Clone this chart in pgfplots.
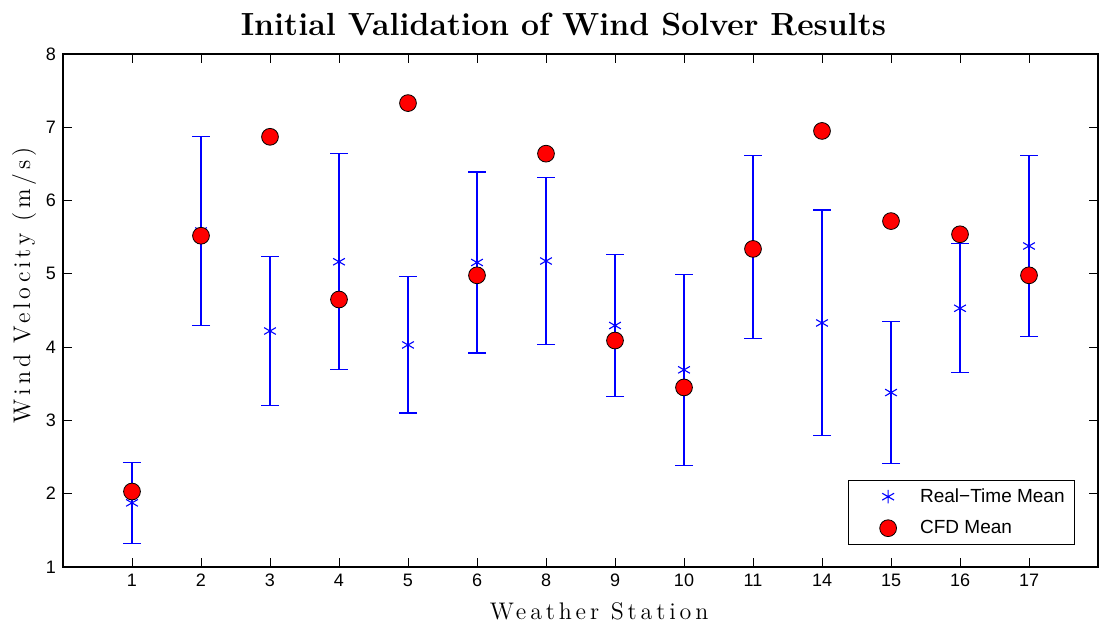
\documentclass[border=0pt]{standalone}
\usepackage{fontspec}
\usepackage{pgfplots}
\pgfplotsset{compat=1.18}
\usepackage{pgfplotstable}
\newfontfamily\hv{Liberation Sans}
\newfontfamily\spaced{lmroman12-regular}[Extension=.otf, LetterSpace=16]
\definecolor{mblue}{rgb}{0,0,1}
\pgfplotstableread{
x y err
1 1.875 0.555
2 5.585 1.285
3 4.22 1.02
4 5.165 1.475
5 4.03 0.93
6 5.155 1.235
7 5.175 1.135
8 4.295 0.965
9 3.69 1.30
10 5.37 1.25
11 4.33 1.54
12 3.38 0.97
13 4.53 0.88
14 5.38 1.24
}\rtdata
\pgfplotstableread{
x y
1 2.03
2 5.52
3 6.87
4 4.65
5 7.33
6 4.98
7 6.64
8 4.09
9 3.45
10 5.34
11 6.95
12 5.72
13 5.54
14 4.98
}\cfddata
\begin{document}
\begin{tikzpicture}
\begin{axis}[
  scale only axis,
  width=517.5pt, height=256.5pt,
  xmin=0, xmax=15, ymin=1, ymax=8,
  xtick={1,...,14},
  xticklabels={1,2,3,4,5,6,8,9,10,11,14,15,16,17},
  ytick={1,...,8},
  tick align=inside,
  tick pos=both,
  major tick length=4.5pt,
  tick style={black, line width=0.5pt},
  axis line style={black, line width=0.6pt},
  /pgf/number format/assume math mode=true,
  tick label style={font=\hv\fontsize{9}{10}\selectfont},
  title={Initial Validation of Wind Solver Results},
  title style={font=\fontsize{16}{19}\selectfont\bfseries, yshift=-0.5pt, xshift=-8.5pt},
  xlabel={Weather Station},
  ylabel={Wind Velocity (m/s)},
  label style={font=\spaced\fontsize{12}{14}\selectfont},
  xlabel style={at={(ticklabel cs:0.518)}, yshift=-1pt},
  ylabel style={at={(ticklabel cs:0.549)}, yshift=-2pt},
  legend style={at={(0.978,0.043)}, anchor=south east, font=\hv\fontsize{9.5}{11}\selectfont,
    draw=black, line width=0.6pt, inner xsep=3pt, inner ysep=2pt, row sep=3.5pt},
  legend cell align=left,
  legend image code/.code={\path[draw=none] (0pt,0pt) (31pt,0pt);
    \draw[#1] plot[only marks] coordinates {(17pt,0pt)};},
  clip=false,
]
\addplot[only marks, mark=asterisk, draw=mblue, mark size=3.4pt, mark options={draw=mblue, line width=0.55pt},
  error bars/.cd, y dir=both, y explicit,
  error bar style={draw=mblue, line width=0.6pt},
  error mark options={draw=mblue, rotate=90, mark size=4.5pt, line width=0.6pt}]
  table[x=x, y=y, y error=err]{\rtdata};
\addlegendentry{Real−Time Mean}
\addplot[only marks, mark=*, mark size=4.2pt, mark options={fill=red, draw=black, line width=0.4pt}]
  table[x=x, y=y]{\cfddata};
\addlegendentry{CFD Mean}
\end{axis}
\path (current axis.south west) ++(-31.5pt,-29.5pt) coordinate (bbsw);
\path (current axis.north east) ++(4.5pt,27pt) coordinate (bbne);
\path (bbsw) rectangle (bbne);
\end{tikzpicture}
\end{document}
